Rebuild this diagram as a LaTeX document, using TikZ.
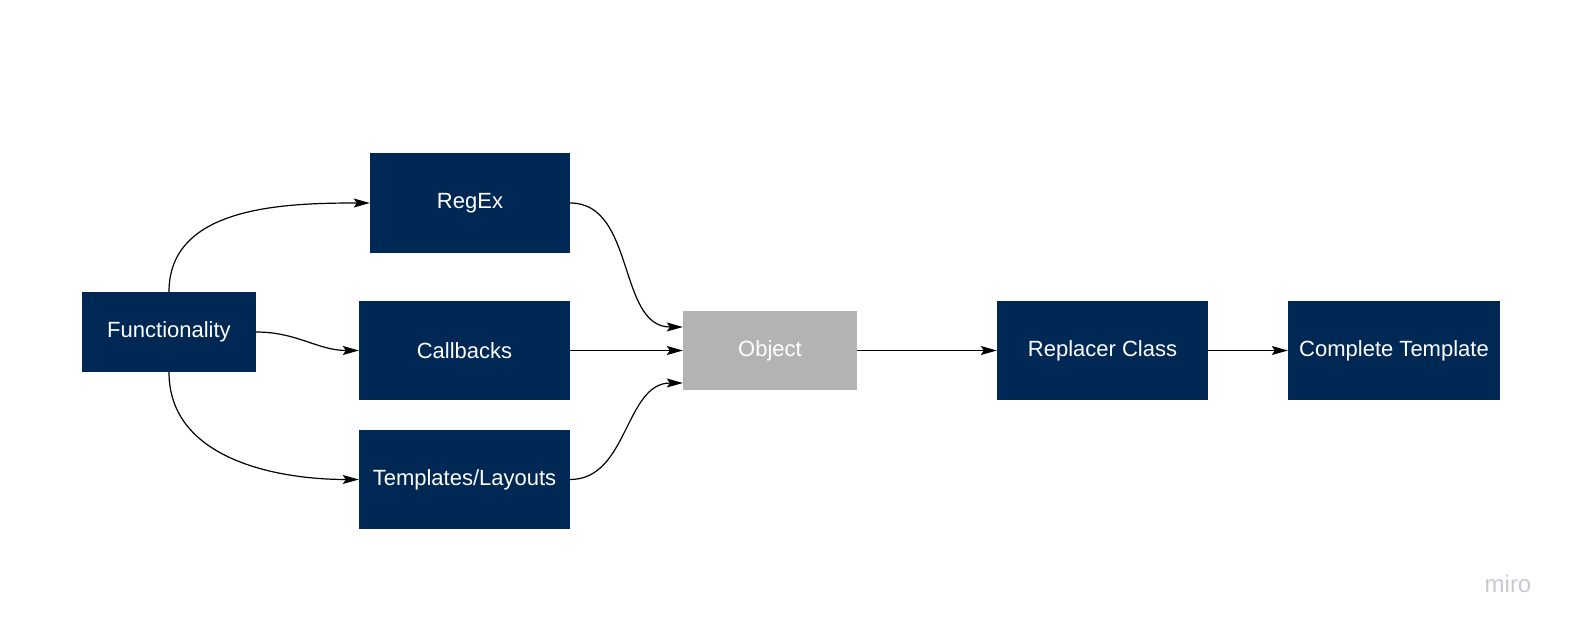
\documentclass[tikz,border=0pt]{standalone}
\usepackage{fontspec}
\setmainfont{Liberation Sans}
\usetikzlibrary{arrows.meta}
\definecolor{navy}{RGB}{0,40,84}
\definecolor{objgray}{RGB}{179,179,179}
\definecolor{logo}{RGB}{200,200,215}
\begin{document}
\begin{tikzpicture}[x=1pt,y=-1pt,
  box/.style={fill=navy,text=white,inner sep=0pt,font=\fontsize{22}{25}\selectfont},
  conn/.style={line width=1.2pt,-{Stealth[length=16pt,width=9pt,inset=3pt]}}]
\useasboundingbox (0,0) rectangle (1579,632);
\node[box,minimum width=174pt,minimum height=80pt] (func) at (169,332) {Functionality};
\node[box,minimum width=200pt,minimum height=100pt] (regex) at (470,203) {RegEx};
\node[box,minimum width=211pt,minimum height=99pt] (cb) at (464.5,350.5) {Callbacks};
\node[box,minimum width=211pt,minimum height=99pt] (tpl) at (464.5,479.5) {Templates/Layouts};
\node[box,fill=objgray,minimum width=174pt,minimum height=79pt] (obj) at (770,350.5) {Object};
\node[box,minimum width=211pt,minimum height=99pt] (rep) at (1102.5,350.5) {Replacer Class};
\node[box,minimum width=212pt,minimum height=99pt] (comp) at (1394,350.5) {Complete Template};
\node[text=logo,font=\fontsize{24}{26}\selectfont,inner sep=0pt] (miro) at (1508,584) {miro};
\draw[conn] (func.north) to[out=90,in=180] (regex.west);
\draw[conn] (func.east) to[out=0,in=180] (cb.west);
\draw[conn] (func.south) to[out=-90,in=180] (tpl.west);
\draw[conn] (regex.east) to[out=0,in=180] ([yshift=23.5pt]obj.west);
\draw[conn] (cb.east) -- (obj.west);
\draw[conn] (tpl.east) to[out=0,in=180] ([yshift=-32.5pt]obj.west);
\draw[conn] (obj.east) -- (rep.west);
\draw[conn] (rep.east) -- (comp.west);
\end{tikzpicture}
\end{document}
